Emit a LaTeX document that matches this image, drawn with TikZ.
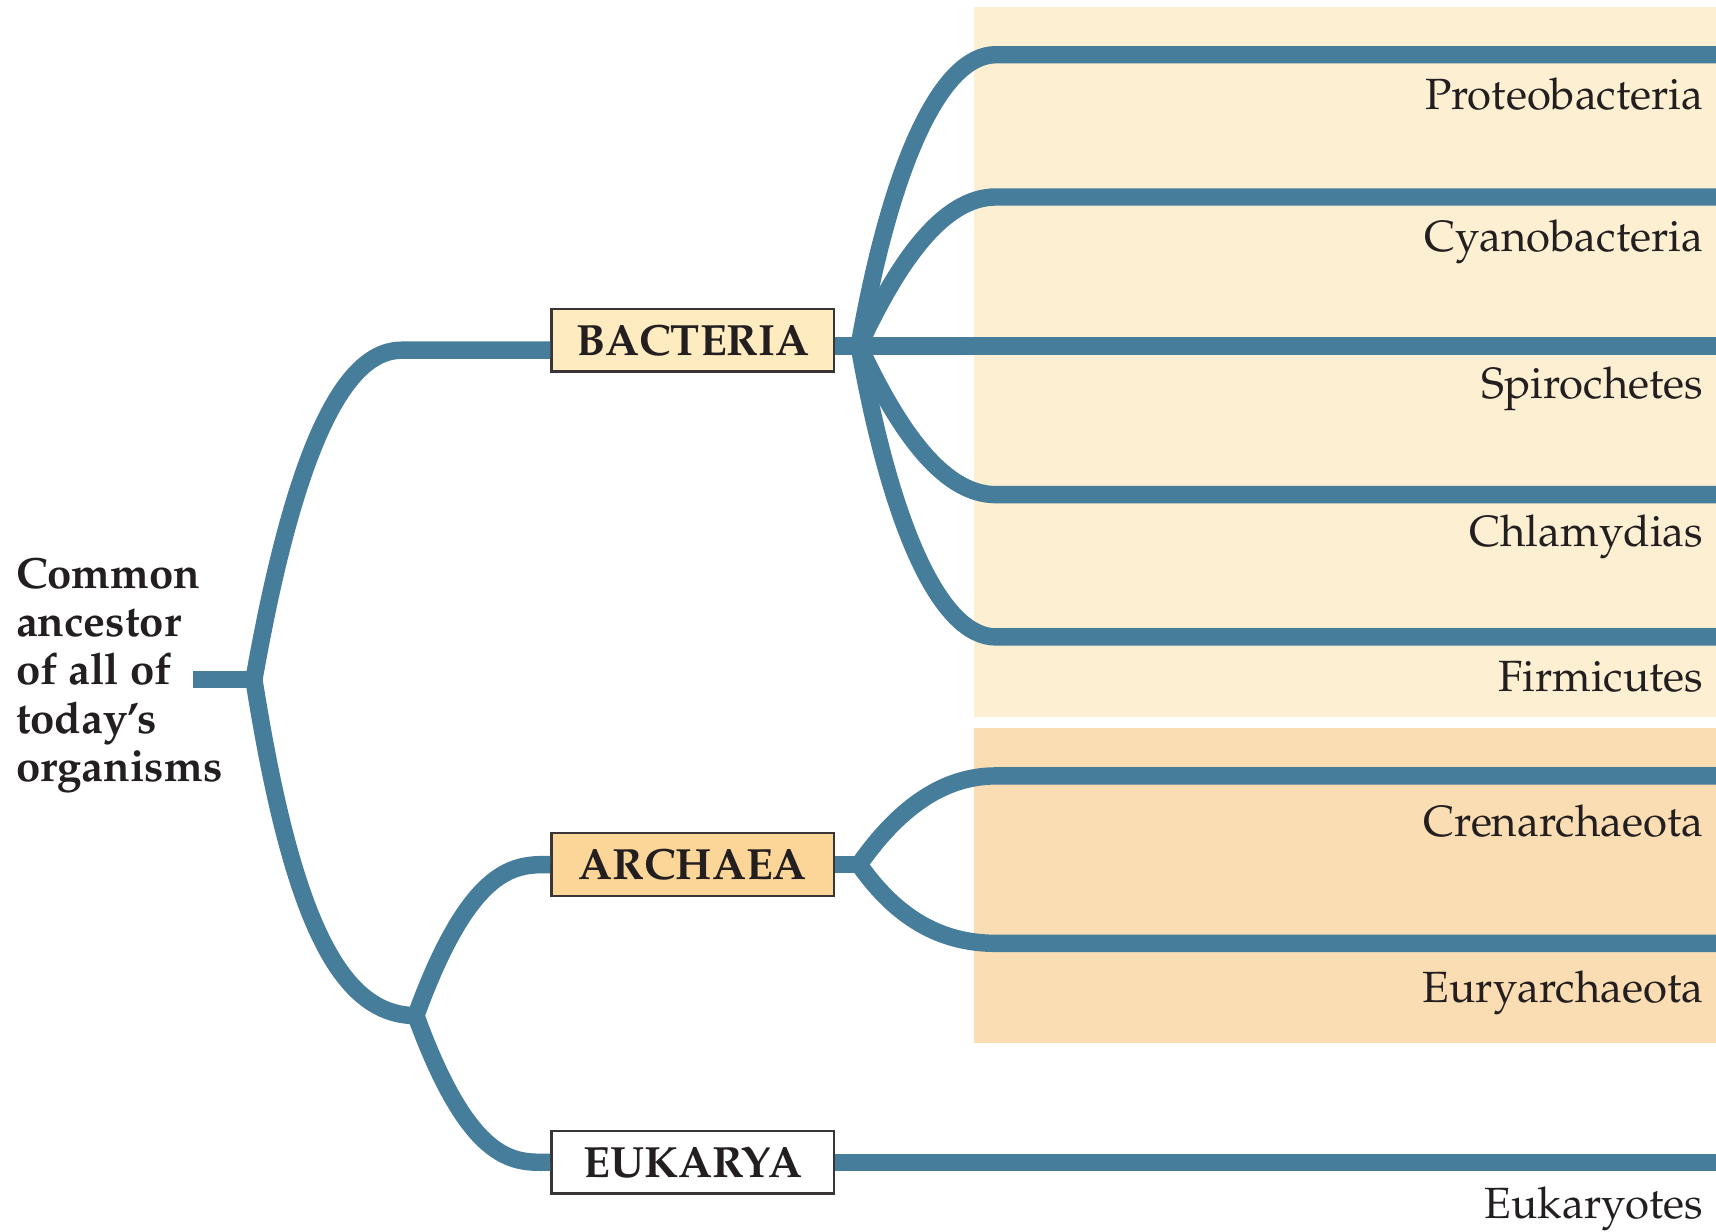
\documentclass[tikz,border=0pt]{standalone}
\usepackage[T1]{fontenc}
\renewcommand{\rmdefault}{ppl}
\usepackage{xcolor}
\usepackage{tikz}
\usetikzlibrary{positioning}
\definecolor{branch}{HTML}{457D9B}
\definecolor{bactbg}{HTML}{FDEFD1}
\definecolor{archbg}{HTML}{FADDB2}
\definecolor{bactfill}{HTML}{FEEBBF}
\definecolor{archfill}{HTML}{FCD598}
\definecolor{ink}{HTML}{231F20}
\tikzset{
  lineage/.style={draw=branch, line width=1.75mm, line join=round},
  domainbox/.style={draw=ink!90, line width=0.7pt, minimum width=28.4mm, minimum height=6.3mm, inner sep=0pt, text=ink, font=\fontsize{12.5}{14}\selectfont\bfseries},
  taxon/.style={anchor=base east, inner sep=0pt, text=ink, font=\fontsize{12.5}{14}\selectfont},
  ancestor/.style={anchor=west, align=left, inner sep=0pt, text=ink, font=\fontsize{12.5}{13.8}\selectfont\bfseries}
}

\begin{document}
\begin{tikzpicture}[x=0.11mm, y=0.11mm]
  \useasboundingbox (0,0) rectangle (1568,1125);
  \fill[bactbg] (890,470) rectangle (1568,1119);
  \fill[archbg] (890,172) rectangle (1568,460);

  \node[ancestor] (common) at (14,508) {Common\\ancestor\\of all of\\today's\\organisms};
  \node[domainbox, fill=bactfill] (bact) at (633,814) {BACTERIA};
  \node[domainbox, fill=archfill] (arch) at (633,335) {ARCHAEA};
  \node[domainbox, fill=white] (euk) at (633,63) {EUKARYA};

  \coordinate (stub) at (176,504);
  \coordinate (root) at (232,504);
  \coordinate (split) at (380,197);
  \coordinate (lbend) at (367,0);
  \coordinate (bfork) at (785,809);
  \coordinate (afork) at (785,335);
  \coordinate (bend) at (910,0);
  \coordinate (proteo) at (1568,1075);
  \coordinate (cyano) at (1568,945);
  \coordinate (spiro) at (1568,809);
  \coordinate (chlam) at (1568,673);
  \coordinate (firm) at (1568,543);
  \coordinate (cren) at (1568,416);
  \coordinate (eury) at (1568,263);
  \coordinate (eukend) at (1568,63);

  \draw[lineage] (stub) -- (root);
  \draw[lineage] (bact.west |- 0,805) -- (lbend |- 0,805) .. controls +(-45,0) and +(80:240) .. (root)
    .. controls +(-81:220) and +(-70,0) .. (split);
  \draw[lineage] (arch.west) .. controls +(-30,0) and +(70:150) .. (split)
    .. controls +(-70:150) and +(-30,0) .. (euk.west);
  \draw[lineage] (proteo) -- (bend |- proteo) .. controls +(-50,0) and +(80:170) .. (bfork)
    .. controls +(-80:170) and +(-50,0) .. (bend |- firm) -- (firm);
  \draw[lineage] (cyano) -- (bend |- cyano) .. controls +(-50,0) and +(65:80) .. (bfork)
    .. controls +(-65:80) and +(-50,0) .. (bend |- chlam) -- (chlam);
  \draw[lineage] (bact.east |- spiro) -- (spiro);
  \draw[lineage] (cren) -- (bend |- cren) .. controls +(-50,0) and +(55:60) .. (afork)
    .. controls +(-55:60) and +(-50,0) .. (bend |- eury) -- (eury);
  \draw[lineage] (arch.east) -- (afork);
  \draw[lineage] (euk.east) -- (eukend);

  \node[taxon] (proteolbl) at (1557,1025) {Proteobacteria};
  \node[taxon] (cyanolbl) at (1557,895) {Cyanobacteria};
  \node[taxon] (spirolbl) at (1557,761) {Spirochetes};
  \node[taxon] (chlamlbl) at (1557,626) {Chlamydias};
  \node[taxon] (firmlbl) at (1557,493) {Firmicutes};
  \node[taxon] (crenlbl) at (1557,361) {Crenarchaeota};
  \node[taxon] (eurylbl) at (1557,209) {Euryarchaeota};
  \node[taxon] (euklbl) at (1557,12) {Eukaryotes};
\end{tikzpicture}
\end{document}
